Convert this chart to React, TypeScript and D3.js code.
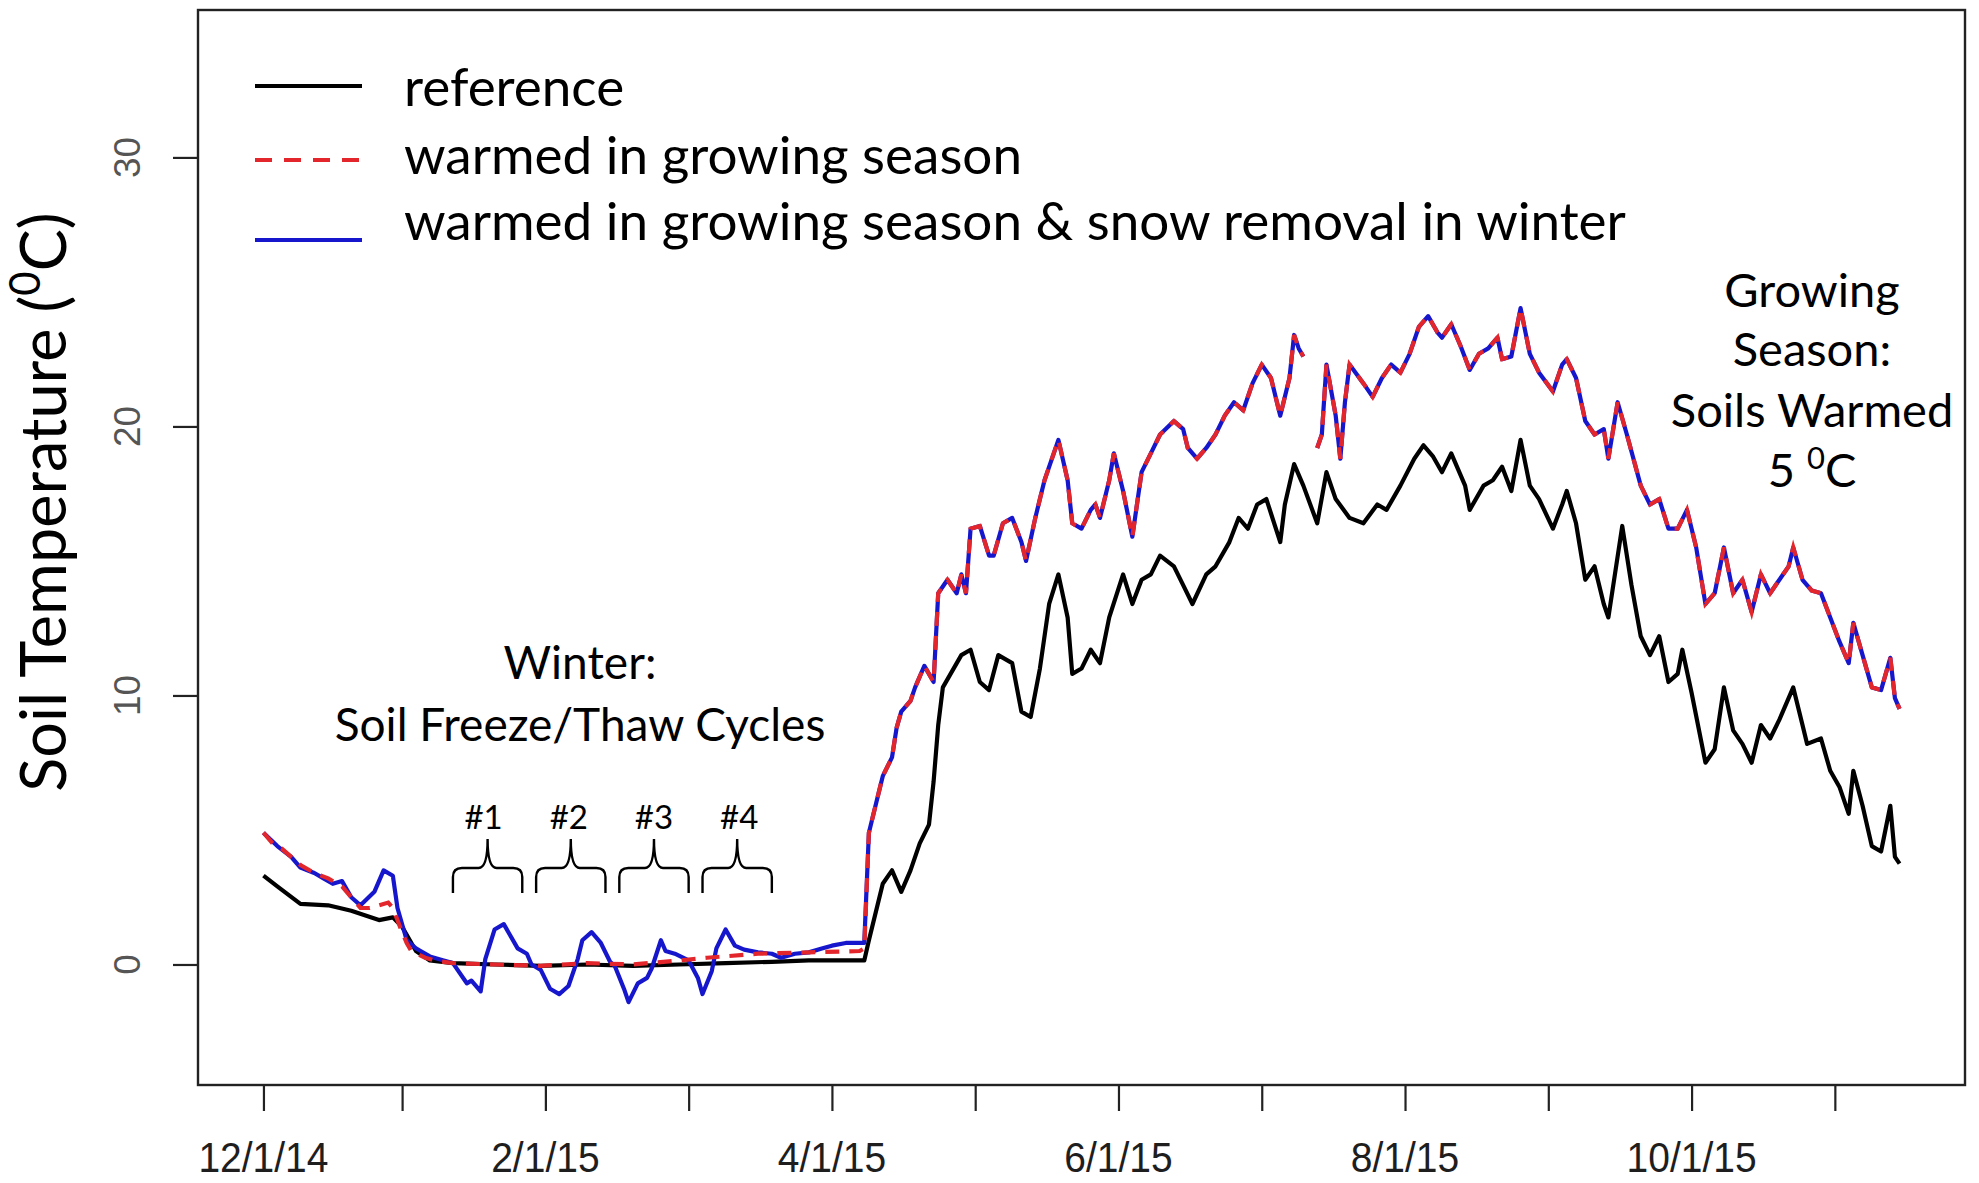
import * as d3 from "d3";
import React, { useEffect, useRef } from "react";

const W = 1979;
const H = 1183;

// day index from 12/1/14, temperature in degC
const referenceTemp: [number, number][] = [
  [0, 3.3], [3, 2.9], [8, 2.25], [14, 2.2], [19, 2.0], [25, 1.65], [28, 1.75], [30, 1.4],
  [33, 0.5], [36, 0.15], [41, 0.05], [50, 0.0], [60, -0.05], [70, 0.0], [80, -0.05],
  [90, 0.0], [100, 0.05], [110, 0.1], [118, 0.15], [130, 0.15], [131, 0.9], [134, 3.0],
  [136, 3.5], [138, 2.7], [140, 3.5], [142, 4.5], [144, 5.2], [145, 6.8], [146, 8.9],
  [147, 10.3], [151, 11.5], [153, 11.7], [155, 10.5], [157, 10.2], [159, 11.5], [162, 11.2],
  [164, 9.4], [166, 9.2], [168, 11.0], [170, 13.4], [172, 14.5], [174, 12.9], [175, 10.8],
  [177, 11.0], [179, 11.7], [181, 11.2], [183, 12.9], [186, 14.5], [188, 13.4], [190, 14.3],
  [192, 14.5], [194, 15.2], [197, 14.8], [199, 14.1], [201, 13.4], [204, 14.5], [206, 14.8],
  [209, 15.7], [211, 16.6], [213, 16.2], [215, 17.1], [217, 17.3], [220, 15.7], [221, 17.1],
  [223, 18.6], [225, 17.8], [228, 16.4], [230, 18.3], [232, 17.3], [235, 16.6], [238, 16.4],
  [241, 17.1], [243, 16.9], [246, 17.8], [249, 18.8], [251, 19.3], [253, 18.9], [255, 18.3],
  [257, 19.0], [260, 17.8], [261, 16.9], [264, 17.8], [266, 18.0], [268, 18.5], [270, 17.6],
  [272, 19.5], [274, 17.8], [276, 17.3], [279, 16.2], [281, 17.1], [282, 17.6], [284, 16.4],
  [286, 14.3], [288, 14.8], [290, 13.4], [291, 12.9], [294, 16.3], [296, 14.1], [298, 12.2],
  [300, 11.5], [302, 12.2], [304, 10.5], [306, 10.8], [307, 11.7], [309, 10.1], [312, 7.5],
  [314, 8.0], [316, 10.3], [318, 8.7], [320, 8.2], [322, 7.5], [324, 8.9], [326, 8.4],
  [328, 9.1], [331, 10.3], [333, 8.9], [334, 8.2], [337, 8.4], [339, 7.2], [341, 6.6],
  [343, 5.6], [344, 7.2], [346, 5.9], [348, 4.4], [350, 4.2], [352, 5.9], [353, 4.0], [354, 3.75],
];

const warmedWinter: [number, number][] = [
  [0, 4.9], [2, 4.5], [4, 4.3], [6, 4.0], [8, 3.7], [11, 3.4], [14, 3.2], [17, 2.9],
  [19, 2.5], [21, 2.1], [23, 2.1], [25, 2.2], [27, 2.3], [28, 2.1], [30, 1.2], [31, 0.8],
  [32, 0.5], [35, 0.25], [37, 0.15], [41, 0.05], [50, 0.0], [60, -0.05], [70, 0.05],
  [80, 0.0], [90, 0.15], [96, 0.25], [107, 0.4], [118, 0.45], [129, 0.5], [130, 0.6],
];

const snowRemovalWinter: [number, number][] = [
  [0, 4.9], [3, 4.4], [6, 4.0], [8, 3.6], [11, 3.4], [13, 3.2], [15, 3.0], [17, 3.1],
  [19, 2.5], [21, 2.2], [24, 2.7], [26, 3.5], [28, 3.3], [29, 2.1], [31, 0.9], [33, 0.6],
  [34, 0.5], [36, 0.3], [39, 0.15], [41, 0.05], [44, -0.7], [45, -0.6], [47, -1.0],
  [48, 0.2], [50, 1.3], [52, 1.5], [53, 1.2], [55, 0.6], [57, 0.4], [58, 0.0], [60, -0.2],
  [62, -0.9], [64, -1.1], [66, -0.8], [68, 0.2], [69, 0.9], [71, 1.2], [73, 0.8], [75, 0.1],
  [76, -0.05], [78, -0.9], [79, -1.4], [81, -0.7], [83, -0.5], [84, -0.15], [86, 0.9],
  [87, 0.5], [89, 0.4], [92, 0.15], [94, -0.5], [95, -1.1], [97, -0.25], [98, 0.6],
  [100, 1.3], [102, 0.7], [104, 0.55], [107, 0.45], [110, 0.4], [112, 0.25], [115, 0.4],
  [118, 0.45], [121, 0.6], [123, 0.7], [126, 0.8], [130, 0.8],
];

// both warmed treatments track each other in the growing season; null = logger gap
const warmedGrowing: [number, number | null][] = [
  [131, 4.9], [132, 5.6], [133, 6.3], [134, 7.0], [136, 7.7], [137, 8.8], [138, 9.4],
  [140, 9.8], [141, 10.3], [143, 11.1], [145, 10.5], [146, 13.8], [148, 14.3], [150, 13.8],
  [151, 14.5], [152, 13.8], [153, 16.2], [155, 16.3], [157, 15.2], [158, 15.2], [160, 16.4],
  [162, 16.6], [164, 15.7], [165, 15.0], [167, 16.6], [169, 18.0], [172, 19.5], [174, 18.0],
  [175, 16.4], [177, 16.2], [179, 16.9], [180, 17.1], [181, 16.6], [183, 18.0], [184, 19.0],
  [186, 17.6], [188, 15.9], [190, 18.3], [192, 19.0], [194, 19.7], [197, 20.2], [199, 19.9],
  [200, 19.2], [202, 18.8], [204, 19.2], [206, 19.7], [208, 20.4], [210, 20.9], [212, 20.6],
  [214, 21.6], [216, 22.3], [218, 21.8], [220, 20.4], [222, 21.8], [223, 23.4], [224, 22.9],
  [225, 22.6], [226, null], [227, null], [228, 19.2], [229, 19.7], [230, 22.3], [232, 20.4],
  [233, 18.8], [234, 20.9], [235, 22.3], [238, 21.6], [240, 21.1], [242, 21.8], [244, 22.3],
  [246, 22.0], [248, 22.7], [250, 23.7], [252, 24.1], [254, 23.5], [255, 23.3], [257, 23.8],
  [259, 23.0], [261, 22.1], [263, 22.7], [265, 22.9], [267, 23.3], [268, 22.5], [270, 22.6],
  [272, 24.4], [274, 22.7], [276, 22.0], [279, 21.3], [281, 22.3], [282, 22.5], [284, 21.8],
  [286, 20.2], [288, 19.7], [290, 19.9], [291, 18.8], [293, 20.9], [295, 19.7], [298, 17.8],
  [300, 17.1], [302, 17.3], [304, 16.2], [306, 16.2], [308, 16.9], [310, 15.5], [312, 13.4],
  [314, 13.8], [316, 15.5], [318, 13.8], [320, 14.3], [322, 13.1], [324, 14.5], [326, 13.8],
  [328, 14.3], [330, 14.8], [331, 15.5], [333, 14.3], [335, 13.9], [337, 13.8], [339, 12.9],
  [341, 12.0], [343, 11.2], [344, 12.7], [346, 11.5], [348, 10.3], [350, 10.2], [352, 11.4],
  [353, 9.9], [354, 9.5],
];

const xTickDays = [0, 30, 61, 92, 123, 154, 185, 216, 247, 278, 309, 340];
const xTickLabels = ["12/1/14", "", "2/1/15", "", "4/1/15", "", "6/1/15", "", "8/1/15", "", "10/1/15", ""];
const yTicks = [0, 10, 20, 30];

const legendLabels = [
  "reference",
  "warmed in growing season",
  "warmed in growing season & snow removal in winter",
];
const cycleLabels = ["#1", "#2", "#3", "#4"];
// start/end day of each freeze/thaw bracket
const cycleSpans: [number, number][] = [[41, 56], [59, 74], [77, 92], [95, 110]];

const RED = "#e3262b";
const BLUE = "#1616cc";
const FONT = "Lato, 'Open Sans', sans-serif";

const App = () => {
  const ref = useRef<SVGSVGElement>(null);

  useEffect(() => {
    document.body.style.margin = "0";
    const svg = d3.select(ref.current);
    svg.selectAll("*").remove();

    const left = 198, right = 1965, top = 10, bottom = 1085;
    const x = d3.scaleLinear().domain([-14.16, 368.16]).range([left, right]);
    const y = d3.scaleLinear().domain([-4.48, 35.48]).range([bottom, top]);

    const line = d3
      .line<[number, number | null]>()
      .defined((d) => d[1] !== null)
      .x((d) => x(d[0]))
      .y((d) => y(d[1] as number));

    const g = svg.append("g");

    // x axis
    const xAxis = g
      .append("g")
      .attr("transform", `translate(0,${bottom})`)
      .call(
        d3.axisBottom(x).tickValues(xTickDays).tickSize(26).tickFormat(() => "")
      );
    xAxis.select(".domain").remove();
    xAxis.selectAll("line").attr("stroke", "#222").attr("stroke-width", 2.2);
    xTickDays.forEach((d, i) => {
      if (!xTickLabels[i]) return;
      g.append("text")
        .attr("transform", `translate(${x(d)},1172) scale(1,1.1)`)
        .attr("text-anchor", "middle")
        .attr("font-family", "'Liberation Sans', Arial, sans-serif")
        .attr("font-size", 39)
        .attr("fill", "#1e1e1e")
        .text(xTickLabels[i]);
    });

    // y axis
    const yAxis = g
      .append("g")
      .attr("transform", `translate(${left},0)`)
      .call(d3.axisLeft(y).tickValues(yTicks).tickSize(25).tickFormat(() => ""));
    yAxis.select(".domain").remove();
    yAxis.selectAll("line").attr("stroke", "#222").attr("stroke-width", 2.2);
    yTicks.forEach((t) => {
      g.append("text")
        .attr("transform", `translate(140,${y(t)}) rotate(-90)`)
        .attr("text-anchor", "middle")
        .attr("font-family", "'Liberation Sans', Arial, sans-serif")
        .attr("font-size", 37)
        .attr("fill", "#555")
        .text(String(t));
    });

    // frame
    g.append("rect")
      .attr("x", left)
      .attr("y", top)
      .attr("width", right - left)
      .attr("height", bottom - top)
      .attr("fill", "none")
      .attr("stroke", "#222")
      .attr("stroke-width", 2.4);

    // series
    const warmed = [...warmedWinter, ...warmedGrowing];
    const snow = [...snowRemovalWinter, ...warmedGrowing];
    g.append("path").attr("d", line(referenceTemp)).attr("fill", "none")
      .attr("stroke", "#000").attr("stroke-width", 4.2).attr("stroke-linejoin", "round");
    g.append("path").attr("d", line(snow)).attr("fill", "none")
      .attr("stroke", BLUE).attr("stroke-width", 4.2).attr("stroke-linejoin", "round");
    g.append("path").attr("d", line(warmed)).attr("fill", "none")
      .attr("stroke", RED).attr("stroke-width", 4.2).attr("stroke-dasharray", "14 10");

    // legend
    const legendLineY = [86, 160, 240];
    const legendTextY = [106, 174, 240];
    const legendStyle = [
      { c: "#000", dash: null },
      { c: RED, dash: "17 12" },
      { c: BLUE, dash: null },
    ];
    legendLabels.forEach((lab, i) => {
      g.append("line")
        .attr("x1", 255).attr("x2", 362)
        .attr("y1", legendLineY[i]).attr("y2", legendLineY[i])
        .attr("stroke", legendStyle[i].c).attr("stroke-width", 4)
        .attr("stroke-dasharray", legendStyle[i].dash);
      g.append("text")
        .attr("x", 404).attr("y", legendTextY[i])
        .attr("font-family", FONT).attr("font-size", 53).attr("fill", "#000")
        .text(lab);
    });

    // winter annotation
    const note = (tx: number, ty: number, s: string, size = 46) =>
      g.append("text").attr("x", tx).attr("y", ty).attr("text-anchor", "middle")
        .attr("font-family", FONT).attr("font-size", size).attr("fill", "#000").text(s);
    note(580, 679, "Winter:");
    note(580, 741, "Soil Freeze/Thaw Cycles");

    // freeze/thaw brackets
    const capY = 839, shY = 868, legY = 893, r = 9;
    cycleSpans.forEach(([a, b], i) => {
      const x0 = x(a), x1 = x(b), cx = (x0 + x1) / 2;
      const p = d3.path();
      p.moveTo(x0, legY);
      p.lineTo(x0, shY + r);
      p.quadraticCurveTo(x0, shY, x0 + r, shY);
      p.lineTo(cx - r, shY);
      p.quadraticCurveTo(cx, shY, cx, capY);
      p.quadraticCurveTo(cx, shY, cx + r, shY);
      p.lineTo(x1 - r, shY);
      p.quadraticCurveTo(x1, shY, x1, shY + r);
      p.lineTo(x1, legY);
      g.append("path").attr("d", p.toString()).attr("fill", "none")
        .attr("stroke", "#000").attr("stroke-width", 2.4);
      note(cx - 4 + i * 2, 829, cycleLabels[i], 33);
    });

    // growing season annotation
    note(1812, 307, "Growing", 47);
    note(1812, 366, "Season:", 47);
    note(1812, 427, "Soils Warmed", 47);
    const t5 = note(1812, 487, "5 ", 47);
    t5.append("tspan").attr("font-size", 31).attr("dy", -18).text("0");
    t5.append("tspan").attr("dy", 18).text("C");

    // y title
    const yt = g.append("text")
      .attr("transform", "translate(66,502) rotate(-90)")
      .attr("text-anchor", "middle")
      .attr("font-family", FONT).attr("font-size", 63).attr("fill", "#000")
      .text("Soil Temperature (");
    yt.append("tspan").attr("font-size", 42).attr("dy", -26).text("0");
    yt.append("tspan").attr("dy", 26).text("C)");
  }, []);

  return <svg ref={ref} width={W} height={H} style={{ display: "block", background: "#fff" }} />;
};

export default App;
